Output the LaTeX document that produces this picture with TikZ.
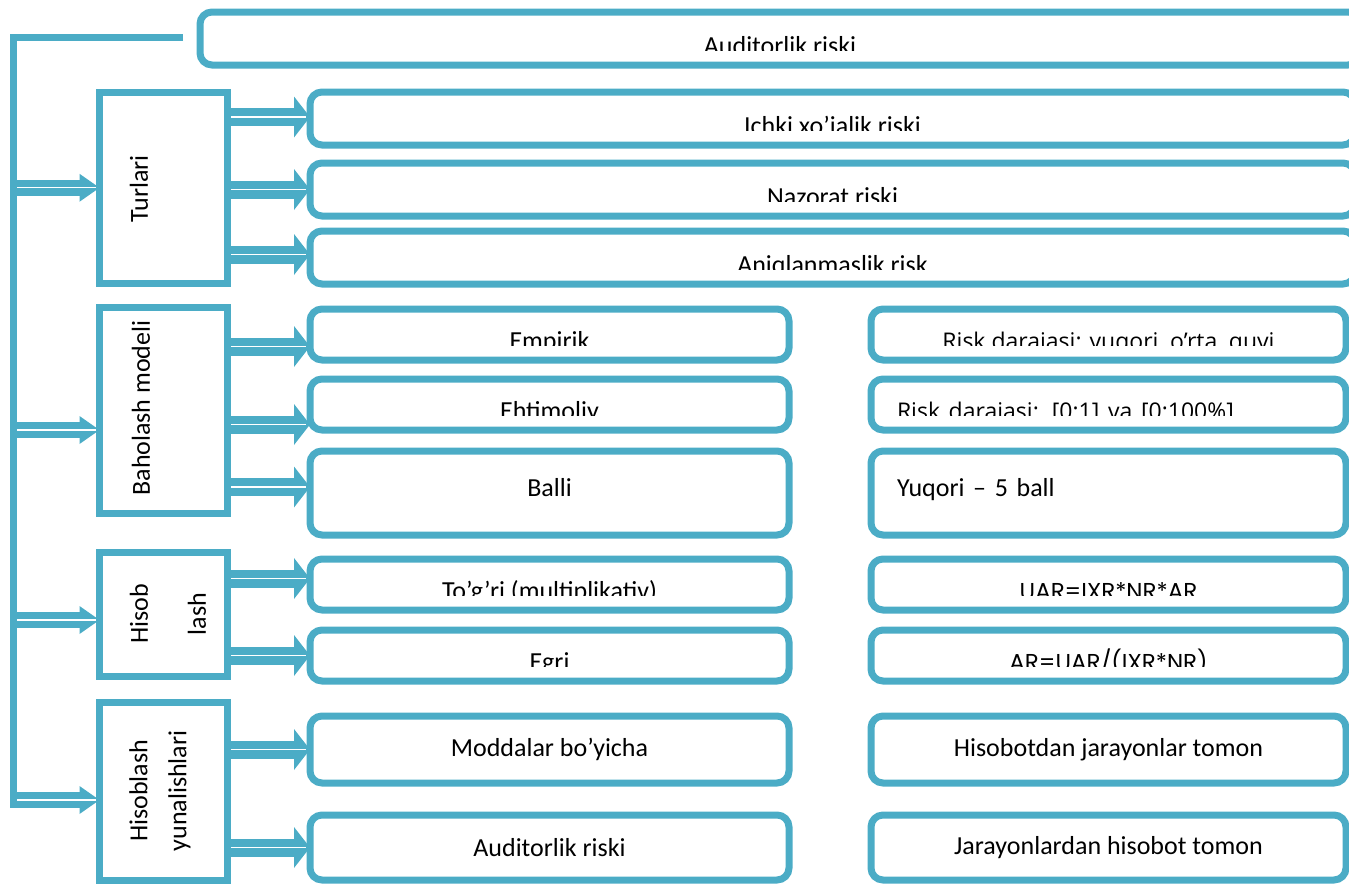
\documentclass[tikz,border=0pt]{standalone}
\usepackage{fontspec}
\setmainfont{Carlito}
\newfontfamily\riskfont{Open Sans}
\newfontfamily\formfont{Poppins}
\usetikzlibrary{decorations.markings}
\definecolor{riskblue}{RGB}{75,172,198}
\newcommand{\bigtext}{\fontsize{26}{30}\selectfont}
\newcommand{\risktext}{\riskfont\fontsize{23}{27}\selectfont}
\newcommand{\formtext}{\formfont\fontsize{23}{27}\selectfont}

\begin{document}
\begin{tikzpicture}[x=1pt,y=-1pt,
  every node/.style={font=\bigtext, inner sep=0pt, outer sep=0pt},
  frame/.style={draw=riskblue, line width=7pt},
  side/.style={frame, minimum width=128pt},
  card/.style={frame, rounded corners=12pt},
  cut/.style={path picture={
    \clip[sharp corners] ([yshift=15pt]path picture bounding box.south west) rectangle (path picture bounding box.north east);
    \node[anchor=base, draw=none] at ([yshift=11pt]path picture bounding box.south) {#1};}},
  cutleft/.style={path picture={
    \clip[sharp corners] ([yshift=15pt]path picture bounding box.south west) rectangle (path picture bounding box.north east);
    \node[anchor=base, draw=none, text width=423pt, align=left] at ([yshift=11pt]path picture bounding box.south) {#1};}},
  trunk/.style={draw=riskblue, line width=7pt},
  feed/.style={draw=riskblue, line width=16pt, shorten >=19pt,
    postaction={decorate, decoration={markings, mark=at position 1 with
      {\fill[riskblue, shorten >=0pt] (0,0) -- (-20,14) -- (-20,-14) -- cycle;}}},
    postaction={draw=white, line width=1.2pt, shorten >=4pt}},
  branch/.style={draw=riskblue, line width=18pt, shorten <=3.5pt, shorten >=15pt,
    postaction={decorate, decoration={markings, mark=at position 1 with
      {\fill[riskblue, shorten >=0pt, shorten <=0pt] (0,0) -- (-16,20.5) -- (-16,-20.5) -- cycle;}}},
    postaction={draw=white, line width=1.2pt, shorten >=4pt}},
]
\useasboundingbox (0,0) rectangle (1349,884);

% top row
\node[card, minimum width=1160pt, minimum height=53pt, cut={Auditorlik riski}] (audit) at (780,38.5) {};
\node[card, minimum width=1045pt, minimum height=53pt, cut={Ichki xo’jalik riski}] (ichki) at (832.5,118.5) {};
\node[card, minimum width=1045pt, minimum height=53pt, cut={Nazorat riski}] (nazorat) at (832.5,189.5) {};
\node[card, minimum width=1045pt, minimum height=53pt, cut={Aniqlanmaslik risk}] (aniq) at (832.5,257.5) {};

% left column
\node[side, minimum height=190.5pt] (turlari) at (163.5,187.75) {};
\node[side, minimum height=206pt] (baholash) at (163.5,410) {};
\node[side, minimum height=124pt] (hisob) at (163.5,614) {};
\node[side, minimum height=178pt] (hisoblash) at (163.5,791) {};
\node[rotate=90] (turlaritxt) at (139,189) {Turlari};
\node[rotate=90] (baholashtxt) at (141,408) {Baholash modeli};
\node[rotate=90, align=center] (hisobtxt) at (168,614) {Hisob\\[28pt]lash};
\node[rotate=90, align=center] (hisoblashtxt) at (160,791) {Hisoblash\\[9pt]yunalishlari};

% middle column
\node[card, minimum width=479pt, minimum height=51pt, cut={Empirik}] (empirik) at (549.5,334.5) {};
\node[card, minimum width=479pt, minimum height=51pt, cut={Ehtimoliy}] (ehtimol) at (549.5,404.5) {};
\node[card, minimum width=479pt, minimum height=84pt, text depth=12pt] (balli) at (549.5,493) {Balli};
\node[card, minimum width=479pt, minimum height=51pt, cut={To’g’ri (multiplikativ)}] (togri) at (549.5,584.5) {};
\node[card, minimum width=479pt, minimum height=51pt, cut={Egri}] (egri) at (549.5,655.5) {};
\node[card, minimum width=479pt, minimum height=67pt] (moddalar) at (549.5,749.5) {Moddalar bo’yicha};
\node[card, minimum width=479pt, minimum height=65pt] (auditb) at (549.5,847.5) {Auditorlik riski};

% right column
\node[card, minimum width=475pt, minimum height=51pt, cut={\risktext Risk darajasi: yuqori, o’rta, quyi}] (darajaA) at (1108.5,334.5) {};
\node[card, minimum width=475pt, minimum height=51pt, cutleft={\risktext Risk darajasi: [0;1] va [0;100\%]}] (darajaB) at (1108.5,404.5) {};
\node[card, minimum width=475pt, minimum height=84pt, text width=423pt, align=left, text depth=12pt] (yuqori) at (1108.5,493) {Yuqori – 5 ball};
\node[card, minimum width=475pt, minimum height=51pt, cut={\formtext UAR=IXR*NR*AR}] (uar) at (1108.5,584.5) {};
\node[card, minimum width=475pt, minimum height=51pt, cut={\formtext AR=UAR/(IXR*NR)}] (ar) at (1108.5,655.5) {};
\node[card, minimum width=475pt, minimum height=67pt] (hisobotdan) at (1108.5,749.5) {Hisobotdan jarayonlar tomon};
\node[card, minimum width=475pt, minimum height=65pt] (jarayon) at (1108.5,847.5) {Jarayonlardan hisobot tomon};

% spine
\coordinate (spine) at (13,37);
\coordinate (spineend) at (13,808);
\draw[feed] ([xshift=-3pt]spine |- turlari.west) -- (turlari.west);
\draw[feed] ([xshift=-3pt,yshift=-20pt]spine |- baholash.west) -- ([yshift=-20pt]baholash.west);
\draw[feed] ([xshift=-3pt,yshift=-6pt]spine |- hisob.west) -- ([yshift=-6pt]hisob.west);
\draw[feed] ([xshift=-3pt,yshift=-9pt]spine |- hisoblash.west) -- ([yshift=-9pt]hisoblash.west);
\draw[trunk] ([xshift=-17pt]audit.west |- spine) -- (spine) -- (spineend);

% branches
\draw[branch] ([yshift=1.5pt]turlari.east |- ichki.west) -- ([yshift=1.5pt]ichki.west);
\draw[branch] (turlari.east |- nazorat.west) -- (nazorat.west);
\draw[branch] ([yshift=3pt]turlari.east |- aniq.west) -- ([yshift=3pt]aniq.west);
\draw[branch] ([yshift=-12pt]baholash.east |- empirik.west) -- ([yshift=-12pt]empirik.west);
\draw[branch] ([yshift=-20pt]baholash.east |- ehtimol.west) -- ([yshift=-20pt]ehtimol.west);
\draw[branch] ([yshift=6pt]baholash.east |- balli.west) -- ([yshift=6pt]balli.west);
\draw[branch] ([yshift=6pt]hisob.east |- togri.west) -- ([yshift=6pt]togri.west);
\draw[branch] (hisob.east |- egri.west) -- (egri.west);
\draw[branch] (hisoblash.east |- moddalar.west) -- (moddalar.west);
\draw[branch] (hisoblash.east |- auditb.west) -- (auditb.west);
\end{tikzpicture}
\end{document}
